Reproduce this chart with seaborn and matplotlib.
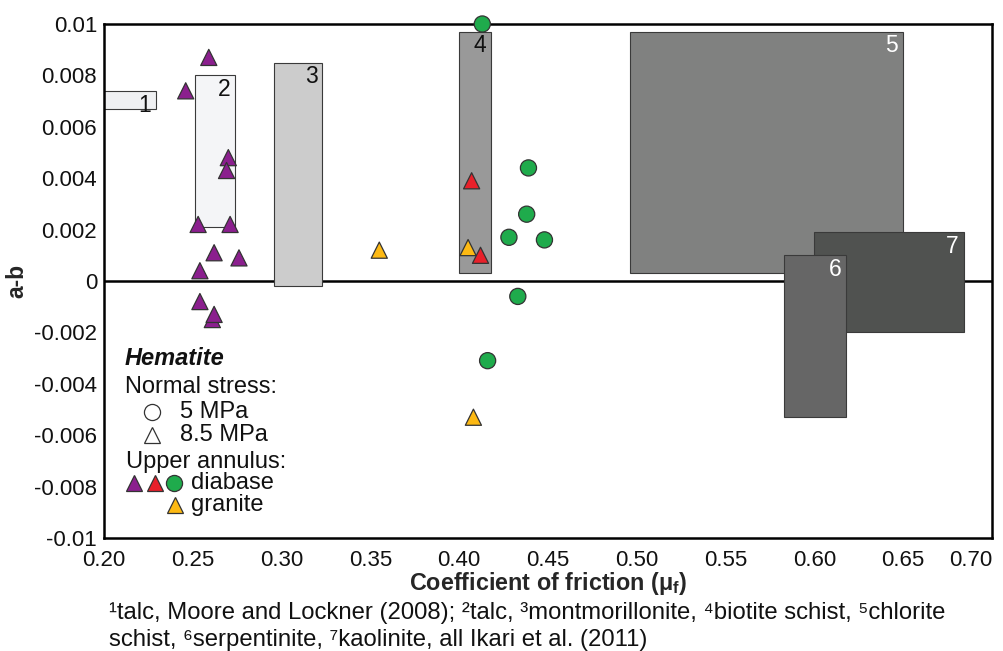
import numpy as np
import pandas as pd
import matplotlib
matplotlib.use("Agg")
import matplotlib.pyplot as plt
from matplotlib.patches import Rectangle
from matplotlib.ticker import FixedLocator, FixedFormatter
import seaborn as sns

# ---------------- data ----------------
purple_mu = [0.259, 0.246, 0.270, 0.269, 0.253, 0.271, 0.262, 0.276, 0.254, 0.254, 0.261, 0.262]
purple_ab = [0.0087, 0.0074, 0.0048, 0.0043, 0.0022, 0.0022, 0.0011, 0.0009, 0.0004, -0.0008, -0.0015, -0.0013]
red_mu = [0.407, 0.412]
red_ab = [0.0039, 0.0010]
green_mu = [0.413, 0.439, 0.438, 0.428, 0.448, 0.433, 0.416]
green_ab = [0.0100, 0.0044, 0.0026, 0.0017, 0.0016, -0.0006, -0.0031]
yellow_mu = [0.355, 0.405, 0.408]
yellow_ab = [0.0012, 0.0013, -0.0053]

rect_labels = ["1", "2", "3", "4", "5", "6", "7"]
rect_x0 = [0.200, 0.2515, 0.296, 0.400, 0.496, 0.583, 0.600]
rect_x1 = [0.229, 0.274, 0.323, 0.418, 0.650, 0.618, 0.684]
rect_y0 = [0.0067, 0.0021, -0.0002, 0.0003, 0.0003, -0.0053, -0.0020]
rect_y1 = [0.0074, 0.0080, 0.0085, 0.0097, 0.0097, 0.0010, 0.0019]
rect_colors = ["#eff0f2", "#f4f5f7", "#cccccc", "#999999", "#808180", "#666666", "#505250"]
rect_text_colors = ["#111111", "#111111", "#111111", "#111111", "white", "white", "white"]
rect_draw_order = [0, 1, 2, 3, 4, 6, 5]

xticks = [0.20, 0.25, 0.30, 0.35, 0.40, 0.45, 0.50, 0.55, 0.60, 0.65, 0.70]
xtick_labels = ["0.20", "0.25", "0.30", "0.35", "0.40", "0.45", "0.50", "0.55", "0.60", "0.65", "0.70"]
yticks = [-0.01, -0.008, -0.006, -0.004, -0.002, 0, 0.002, 0.004, 0.006, 0.008, 0.01]
ytick_labels = ["-0.01", "-0.008", "-0.006", "-0.004", "-0.002", "0", "0.002", "0.004", "0.006", "0.008", "0.01"]

caption_line1 = "¹talc, Moore and Lockner (2008); ²talc, ³montmorillonite, ⁴biotite schist, ⁵chlorite"
caption_line2 = "schist, ⁶serpentinite, ⁷kaolinite, all Ikari et al. (2011)"

# ---------------- style ----------------
sns.set_style("white")
plt.rcParams["font.family"] = ["Liberation Sans", "DejaVu Sans"]
plt.rcParams["mathtext.fontset"] = "custom"
plt.rcParams["mathtext.rm"] = "Liberation Sans"
plt.rcParams["mathtext.it"] = "Liberation Sans:italic"
plt.rcParams["mathtext.bf"] = "Liberation Sans:bold"

col_purple = "#8b1f8e"
col_red = "#e8202a"
col_green = "#1fab4c"
col_yellow = "#fdb913"
edge = "#333333"

df = pd.concat([
    pd.DataFrame({"mu": yellow_mu, "ab": yellow_ab, "group": "granite", "stress": "8.5 MPa"}),
    pd.DataFrame({"mu": purple_mu, "ab": purple_ab, "group": "diabase A", "stress": "8.5 MPa"}),
    pd.DataFrame({"mu": red_mu, "ab": red_ab, "group": "diabase B", "stress": "8.5 MPa"}),
    pd.DataFrame({"mu": green_mu, "ab": green_ab, "group": "diabase C", "stress": "5 MPa"}),
], ignore_index=True)
palette = {"diabase A": col_purple, "diabase B": col_red, "diabase C": col_green, "granite": col_yellow}

fig = plt.figure(figsize=(10.04, 6.51), dpi=100)
ax = fig.add_axes([104 / 1004, 1 - 538 / 651, 888 / 1004, 514 / 651])

ax.axhline(0, color="black", lw=1.8, zorder=1)

for k, i in enumerate(rect_draw_order):
    ax.add_patch(Rectangle((rect_x0[i], rect_y0[i]), rect_x1[i] - rect_x0[i], rect_y1[i] - rect_y0[i],
                           facecolor=rect_colors[i], edgecolor="#3a3a3a", lw=0.8, zorder=2 + k * 0.1))
    ax.annotate(rect_labels[i], xy=(rect_x1[i], rect_y1[i]), xytext=(-3.5, -2), textcoords="offset points",
                ha="right", va="top", fontsize=16.5, color=rect_text_colors[i], zorder=3)

sns.scatterplot(data=df, x="mu", y="ab", hue="group", style="stress",
                markers={"5 MPa": "o", "8.5 MPa": "^"}, palette=palette, s=135,
                edgecolor=edge, linewidth=0.9, legend=False, ax=ax, zorder=5)
for c in ax.collections:
    c.set_clip_on(False)

ax.set_xlim(0.20, 0.70)
ax.set_ylim(-0.01, 0.01)
ax.xaxis.set_major_locator(FixedLocator(xticks))
ax.xaxis.set_major_formatter(FixedFormatter(xtick_labels))
ax.yaxis.set_major_locator(FixedLocator(yticks))
ax.yaxis.set_major_formatter(FixedFormatter(ytick_labels))
ax.tick_params(axis="both", direction="in", length=6, width=1.5, labelsize=16, color="black",
               labelcolor="#111111")
ax.tick_params(axis="x", pad=9)
ax.tick_params(axis="y", pad=5)
ax.get_xticklabels()[-1].set_horizontalalignment("right")
ax.get_xticklabels()[-1].set_x(0.7)
for s in ax.spines.values():
    s.set_color("black")
    s.set_linewidth(1.8)

ax.set_xlabel(r"Coefficient of friction (μ$_\mathbf{f}$)", fontsize=16.8, fontweight="bold", labelpad=-1)
ax.set_ylabel("a-b", fontsize=16.5, fontweight="bold", labelpad=4)

# ---------------- custom legend ----------------
tkw = dict(transform=ax.transAxes, fontsize=17, va="center", ha="left", color="#111111")
ax.text(0.0236, 0.350, "Hematite", fontweight="bold", style="italic", **tkw)
ax.text(0.0236, 0.294, "Normal stress:", **tkw)
ax.text(0.0856, 0.2457, "5 MPa", **tkw)
ax.text(0.0856, 0.2004, "8.5 MPa", **tkw)
ax.text(0.0247, 0.1484, "Upper annulus:", **tkw)
ax.text(0.0976, 0.1064, "diabase", **tkw)
ax.text(0.0976, 0.0642, "granite", **tkw)
mkw = dict(transform=ax.transAxes, markersize=11.6, markeredgewidth=0.9, markeredgecolor=edge,
           clip_on=False, linestyle="none", zorder=6)
ax.plot([0.0537], [0.2457], marker="o", markerfacecolor="white", **mkw)
ax.plot([0.0537], [0.2004], marker="^", markerfacecolor="white", **mkw)
ax.plot([0.0338], [0.1064], marker="^", markerfacecolor=col_purple, **mkw)
ax.plot([0.0574], [0.1064], marker="^", markerfacecolor=col_red, **mkw)
ax.plot([0.0788], [0.1064], marker="o", markerfacecolor=col_green, **mkw)
ax.plot([0.0800], [0.0642], marker="^", markerfacecolor=col_yellow, **mkw)

fig.text(109 / 1004, 1 - 619 / 651, caption_line1, ha="left", va="baseline", fontsize=17.2, color="#111111")
fig.text(109 / 1004, 1 - 646 / 651, caption_line2, ha="left", va="baseline", fontsize=17.2, color="#111111")

fig.savefig("out.png", dpi=100)
